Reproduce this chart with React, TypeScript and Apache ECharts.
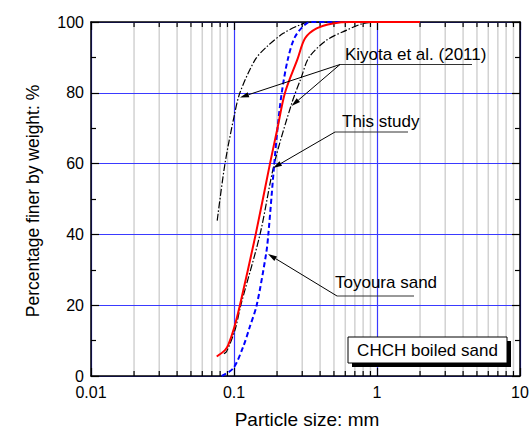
import React, { useEffect, useRef } from "react";
import * as echarts from "echarts";

const FONT = "'Liberation Sans', Arial, Helvetica, sans-serif";

const xTickLabels = ["0.01", "0.1", "1", "10"];
const minorX = [
  0.02, 0.03, 0.04, 0.05, 0.06, 0.07, 0.08, 0.09,
  0.2, 0.3, 0.4, 0.5, 0.6, 0.7, 0.8, 0.9,
  2, 3, 4, 5, 6, 7, 8, 9,
];

const thisStudy = [
  [0.0757, 5.5], [0.0865, 7.3], [0.0912, 8.8], [0.1, 13.5], [0.11, 20],
  [0.1418, 40], [0.1785, 60], [0.2014, 70], [0.2273, 80], [0.278, 89.5],
  [0.314, 95.4], [0.378, 98.2], [0.492, 99.6], [0.65, 100], [2.0, 100],
];

const toyoura = [
  [0.082, 0], [0.0989, 2.2], [0.116, 8.3], [0.129, 13.9], [0.1441, 20],
  [0.168, 34.7], [0.1738, 40], [0.1913, 60], [0.2021, 70.4], [0.2157, 80],
  [0.2374, 89.3], [0.267, 95.8], [0.322, 99.6], [0.37, 100], [2.0, 100],
];

const kiyotaFine = [
  [0.0763, 43.9], [0.0865, 60], [0.1, 73.2], [0.11, 80],
  [0.1403, 89.3], [0.1694, 93], [0.221, 96.8], [0.29, 99.2], [0.34, 100], [0.45, 100],
];

const kiyotaCoarse = [
  [0.085, 6.3], [0.0888, 6.9], [0.1016, 13], [0.1116, 20], [0.152, 40],
  [0.1913, 60], [0.2532, 77], [0.294, 84.1], [0.3346, 90],
  [0.445, 94.9], [0.614, 97.7], [0.785, 99.5], [0.97, 100],
];

function arrow(x1: number, y1: number, x2: number, y2: number): any[] {
  const ang = Math.atan2(y2 - y1, x2 - x1);
  const L = 9;
  const W = 2.6;
  const bx = x2 - L * Math.cos(ang);
  const by = y2 - L * Math.sin(ang);
  const px = -Math.sin(ang) * W;
  const py = Math.cos(ang) * W;
  return [
    { type: "line", z: 100, shape: { x1, y1, x2: bx, y2: by }, style: { stroke: "#000", lineWidth: 1 } },
    {
      type: "polygon", z: 100,
      shape: { points: [[x2, y2], [bx + px, by + py], [bx - px, by - py]] },
      style: { fill: "#000" },
    },
  ];
}

function underline(x1: number, x2: number, y: number): any {
  return { type: "line", z: 100, shape: { x1, y1: y, x2, y2: y }, style: { stroke: "#333", lineWidth: 1 } };
}

function label(text: string, x: number, y: number, size = 17): any {
  return {
    type: "text", z: 100, x, y,
    style: { text, fill: "#000", font: `${size}px ${FONT}`, align: "left", verticalAlign: "middle" },
  };
}

export default function App() {
  const ref = useRef<HTMLDivElement>(null);

  useEffect(() => {
    const chart = echarts.init(ref.current!, null, { renderer: "svg" });

    const xAxisBase = (position: "bottom" | "top", main: boolean): any => ({
      type: "log",
      logBase: 10,
      min: 0.01,
      max: 10,
      position,
      axisLine: { show: true, onZero: false, lineStyle: { color: "#000", width: 1.5 } },
      axisTick: { show: true, inside: true, length: 8, lineStyle: { color: "#000", width: 1.2 } },
      axisLabel: {
        show: main,
        color: "#000",
        fontSize: 16,
        fontFamily: FONT,
        margin: 8,
        formatter: (v: number) => xTickLabels[Math.round(Math.log10(v)) + 2] ?? "",
      },
      splitLine: { show: main, lineStyle: { color: "#3a3aff", width: 1.2 } },
      minorTick: { show: false },
    });

    const yAxisBase = (position: "left" | "right", main: boolean): any => ({
      type: "value",
      min: 0,
      max: 100,
      interval: 20,
      position,
      axisLine: { show: true, onZero: false, lineStyle: { color: "#000", width: 1.5 } },
      axisTick: { show: true, inside: true, length: 8, lineStyle: { color: "#000", width: 1.2 } },
      minorTick: { show: true, splitNumber: 2, length: 5, lineStyle: { color: "#000", width: 1.2 } },
      axisLabel: { show: main, color: "#000", fontSize: 16, fontFamily: FONT, margin: 7 },
      splitLine: { show: main, lineStyle: { color: "#3a3aff", width: 1.2 } },
    });

    const lineSeries = (name: string, data: number[][], color: string, width: number, type: any): any => ({
      name,
      type: "line",
      xAxisIndex: 0,
      yAxisIndex: 0,
      data,
      showSymbol: false,
      symbol: "none",
      smooth: 0.3,
      z: 5,
      lineStyle: { color, width, type },
    });

    const option: any = {
      animation: false,
      backgroundColor: "#fff",
      textStyle: { fontFamily: FONT },
      grid: { left: 91, top: 22, width: 429, height: 354, containLabel: false },
      xAxis: [xAxisBase("bottom", true), xAxisBase("top", false)],
      yAxis: [yAxisBase("left", true), yAxisBase("right", false)],
      series: [
        {
          type: "custom",
          xAxisIndex: 0,
          yAxisIndex: 0,
          z: -1,
          silent: true,
          data: minorX.map((v) => [v, 0]),
          renderItem: (_p: any, api: any) => {
            const v = api.value(0);
            const top = api.coord([v, 100]);
            const bot = api.coord([v, 0]);
            return {
              type: "group",
              children: [
                { type: "line", shape: { x1: bot[0], y1: bot[1], x2: top[0], y2: top[1] }, style: { stroke: "#d2d2d2", lineWidth: 1.5 } },
                { type: "line", shape: { x1: bot[0], y1: bot[1], x2: bot[0], y2: bot[1] - 5 }, style: { stroke: "#000", lineWidth: 1.2 } },
                { type: "line", shape: { x1: top[0], y1: top[1], x2: top[0], y2: top[1] + 5 }, style: { stroke: "#000", lineWidth: 1.2 } },
              ],
            };
          },
        },
        lineSeries("Kiyota fine", kiyotaFine, "#000", 1.2, [7, 2, 1.5, 2]),
        lineSeries("Kiyota coarse", kiyotaCoarse, "#000", 1.2, [7, 2, 1.5, 2]),
        lineSeries("Toyoura sand", toyoura, "#0000ff", 2, [5, 3]),
        lineSeries("This study", thisStudy, "#ff0000", 2, "solid"),
      ],
      graphic: [
        {
          type: "text", z: 100, x: 307, y: 419,
          style: { text: "Particle size: mm", fill: "#000", font: `19px ${FONT}`, align: "center", verticalAlign: "middle" },
        },
        {
          type: "text", z: 100, x: 33, y: 201, rotation: Math.PI / 2,
          style: { text: "Percentage finer by weight: %", fill: "#000", font: `17.5px ${FONT}`, align: "center", verticalAlign: "middle" },
        },
        label("Kiyota et al. (2011)", 345, 54),
        underline(340, 472, 64.5),
        ...arrow(340, 64.5, 240, 97.5),
        ...arrow(340, 64.5, 291.5, 106),
        label("This study", 342, 121),
        underline(335, 408, 132),
        ...arrow(335, 132, 273, 168),
        label("Toyoura sand", 335, 282),
        underline(337, 414, 296),
        ...arrow(337, 296, 268, 254),
        { type: "rect", z: 100, shape: { x: 352, y: 341, width: 159, height: 26 }, style: { fill: "#000" } },
        { type: "rect", z: 101, shape: { x: 348, y: 337, width: 159, height: 26 }, style: { fill: "#fff", stroke: "#000", lineWidth: 1 } },
        {
          type: "text", z: 102, x: 427.5, y: 350.5,
          style: { text: "CHCH boiled sand", fill: "#000", font: `17px ${FONT}`, align: "center", verticalAlign: "middle" },
        },
      ],
    };

    chart.setOption(option);
    return () => chart.dispose();
  }, []);

  return (
    <div
      ref={ref}
      style={{ position: "fixed", left: 0, top: 0, width: 532, height: 431, background: "#fff" }}
    />
  );
}
